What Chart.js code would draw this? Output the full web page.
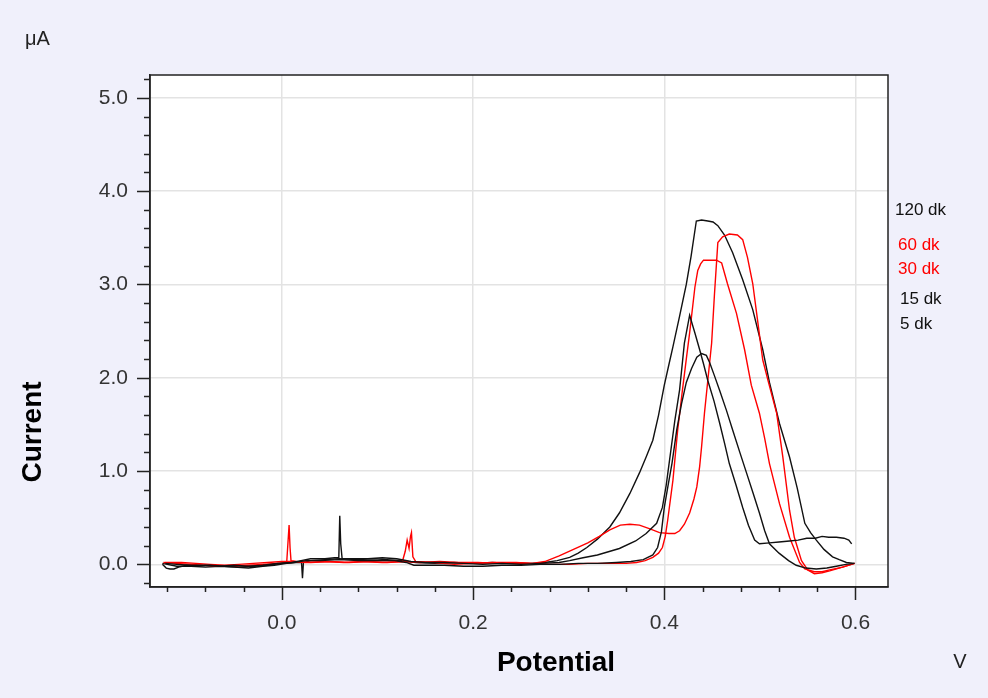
<!DOCTYPE html>
<html>
<head>
<meta charset="utf-8">
<script src="https://cdn.jsdelivr.net/npm/chart.js@4.4.1/dist/chart.umd.min.js"></script>
<style>
  html, body { margin: 0; padding: 0; background: #f0f0fb; }
  canvas { display: block; }
</style>
</head>
<body>
<canvas id="voltammogram" width="988" height="698"></canvas>
<script>
const seriesLabels = ["5 dk", "15 dk", "30 dk", "60 dk", "120 dk"];
const seriesColors = ["#111111", "#111111", "#ff0000", "#ff0000", "#111111"];

// potential (V) / current (uA)
const pot5 = [-0.125, -0.121, -0.117, -0.113, -0.108, -0.1, -0.09, -0.075, -0.06, -0.045, -0.03, -0.015, 0.0, 0.012, 0.025, 0.04, 0.06, 0.08, 0.1, 0.118, 0.13, 0.138, 0.15, 0.17, 0.19, 0.21, 0.23, 0.25, 0.27, 0.29, 0.31, 0.33, 0.35, 0.365, 0.378, 0.388, 0.393, 0.397, 0.4, 0.404, 0.408, 0.413, 0.418, 0.423, 0.4285, 0.434, 0.439, 0.444, 0.4475, 0.4525, 0.458, 0.465, 0.4715, 0.479, 0.486, 0.493, 0.4995, 0.505, 0.51, 0.52, 0.53, 0.538, 0.548, 0.559, 0.57, 0.58, 0.59, 0.599];
const cur5 = [0.0, -0.04, -0.05, -0.05, -0.03, -0.01, -0.02, -0.01, -0.02, -0.03, -0.02, -0.01, 0.01, 0.02, 0.04, 0.04, 0.05, 0.04, 0.04, 0.04, 0.02, -0.01, -0.01, -0.01, -0.02, -0.02, -0.01, -0.01, 0.0, 0.0, 0.01, 0.01, 0.02, 0.03, 0.05, 0.1, 0.18, 0.35, 0.61, 0.85, 1.08, 1.44, 1.72, 1.95, 2.1, 2.22, 2.26, 2.24, 2.16, 2.02, 1.86, 1.65, 1.44, 1.2, 0.98, 0.76, 0.55, 0.36, 0.22, 0.12, 0.04, -0.01, -0.04, -0.05, -0.04, -0.02, 0.0, 0.01];

const pot15 = [-0.122, -0.11, -0.095, -0.08, -0.065, -0.05, -0.035, -0.02, -0.005, 0.01, 0.02, 0.03, 0.045, 0.055, 0.0595, 0.0605, 0.0615, 0.063, 0.075, 0.09, 0.105, 0.12, 0.135, 0.15, 0.17, 0.19, 0.21, 0.23, 0.25, 0.27, 0.29, 0.301, 0.315, 0.33, 0.353, 0.37, 0.381, 0.392, 0.398, 0.402, 0.405, 0.411, 0.416, 0.421, 0.4265, 0.432, 0.437, 0.441, 0.4455, 0.452, 0.458, 0.463, 0.468, 0.475, 0.482, 0.488, 0.4945, 0.4995, 0.51, 0.52, 0.531, 0.54, 0.549, 0.558, 0.565, 0.572, 0.58, 0.588, 0.593, 0.596];
const cur15 = [0.01, 0.0, -0.01, -0.01, -0.02, -0.01, -0.02, -0.01, 0.01, 0.02, 0.04, 0.06, 0.06, 0.07, 0.07, 0.52, 0.22, 0.06, 0.06, 0.06, 0.07, 0.06, 0.03, 0.02, 0.02, 0.01, 0.0, 0.01, 0.0, 0.01, 0.02, 0.04, 0.07, 0.1, 0.17, 0.25, 0.33, 0.44, 0.61, 0.85, 1.08, 1.54, 1.87, 2.37, 2.67, 2.48, 2.3, 2.15, 1.97, 1.75, 1.51, 1.3, 1.08, 0.85, 0.61, 0.42, 0.26, 0.22, 0.23, 0.24, 0.25, 0.26, 0.28, 0.28, 0.3, 0.29, 0.29, 0.28, 0.26, 0.22];

const pot30 = [-0.124, -0.11, -0.095, -0.08, -0.065, -0.05, -0.035, -0.02, -0.005, 0.005, 0.0075, 0.0085, 0.0095, 0.015, 0.03, 0.05, 0.07, 0.09, 0.11, 0.126, 0.129, 0.131, 0.133, 0.1345, 0.1355, 0.137, 0.14, 0.16, 0.18, 0.2, 0.22, 0.24, 0.26, 0.28, 0.3, 0.32, 0.34, 0.36, 0.371, 0.38, 0.388, 0.394, 0.398, 0.401, 0.4035, 0.409, 0.414, 0.419, 0.423, 0.4265, 0.432, 0.435, 0.438, 0.441, 0.4545, 0.46, 0.466, 0.4755, 0.484, 0.491, 0.4995, 0.505, 0.51, 0.5205, 0.531, 0.5415, 0.547, 0.557, 0.565, 0.573, 0.5865, 0.599];
const cur30 = [0.02, 0.01, 0.0, -0.01, -0.02, -0.02, -0.01, 0.0, 0.01, 0.02, 0.42, 0.18, 0.04, 0.03, 0.02, 0.03, 0.02, 0.03, 0.02, 0.03, 0.14, 0.26, 0.17, 0.3, 0.34, 0.08, 0.03, 0.02, 0.0, 0.01, 0.02, 0.02, 0.01, 0.0, 0.0, 0.01, 0.01, 0.01, 0.02, 0.04, 0.075, 0.12, 0.18, 0.3, 0.47, 0.9, 1.44, 1.87, 2.2, 2.48, 2.97, 3.15, 3.22, 3.26, 3.26, 3.23, 3.01, 2.69, 2.3, 1.92, 1.62, 1.35, 1.08, 0.65, 0.29, 0.02, -0.05, -0.08, -0.08, -0.06, -0.03, 0.01];

const pot60 = [-0.122, -0.105, -0.09, -0.075, -0.06, -0.045, -0.03, -0.015, 0.0, 0.012, 0.025, 0.045, 0.065, 0.085, 0.105, 0.125, 0.145, 0.165, 0.185, 0.205, 0.225, 0.245, 0.262, 0.275, 0.29, 0.305, 0.32, 0.332, 0.343, 0.354, 0.364, 0.374, 0.385, 0.395, 0.405, 0.411, 0.416, 0.421, 0.4265, 0.431, 0.434, 0.437, 0.439, 0.442, 0.4455, 0.4495, 0.4525, 0.456, 0.461, 0.468, 0.4765, 0.482, 0.487, 0.4925, 0.4975, 0.503, 0.509, 0.5175, 0.524, 0.531, 0.536, 0.5435, 0.55, 0.557, 0.565, 0.573, 0.5865, 0.599];
const cur60 = [0.02, 0.02, 0.01, 0.0, -0.01, 0.0, 0.01, 0.02, 0.03, 0.03, 0.02, 0.03, 0.02, 0.03, 0.02, 0.03, 0.02, 0.03, 0.02, 0.02, 0.01, 0.02, 0.01, 0.03, 0.09, 0.16, 0.23, 0.3, 0.37, 0.42, 0.43, 0.42, 0.38, 0.34, 0.33, 0.33, 0.36, 0.43, 0.55, 0.7, 0.83, 1.05, 1.26, 1.62, 1.97, 2.37, 2.9, 3.45, 3.51, 3.54, 3.53, 3.48, 3.29, 3.01, 2.62, 2.19, 1.95, 1.62, 1.15, 0.58, 0.29, 0.04, -0.06, -0.1, -0.09, -0.07, -0.03, 0.01];

const pot120 = [-0.125, -0.11, -0.095, -0.08, -0.065, -0.05, -0.035, -0.02, -0.008, 0.005, 0.015, 0.0205, 0.0215, 0.0225, 0.03, 0.045, 0.06, 0.08, 0.095, 0.11, 0.125, 0.14, 0.16, 0.18, 0.2, 0.22, 0.24, 0.26, 0.275, 0.288, 0.301, 0.31, 0.319, 0.33, 0.343, 0.353, 0.364, 0.374, 0.381, 0.388, 0.394, 0.4, 0.405, 0.409, 0.416, 0.423, 0.428, 0.4335, 0.439, 0.4455, 0.451, 0.456, 0.463, 0.4715, 0.482, 0.4925, 0.503, 0.51, 0.5205, 0.531, 0.539, 0.547, 0.553, 0.559, 0.567, 0.576, 0.583, 0.5905, 0.599];
const cur120 = [0.01, -0.02, -0.02, -0.03, -0.02, -0.03, -0.04, -0.02, -0.01, 0.01, 0.02, 0.02, -0.15, 0.02, 0.04, 0.05, 0.06, 0.05, 0.06, 0.05, 0.04, 0.02, 0.01, 0.02, 0.01, 0.02, 0.01, 0.01, 0.02, 0.04, 0.075, 0.12, 0.18, 0.27, 0.4, 0.55, 0.76, 0.98, 1.15, 1.33, 1.6, 1.92, 2.15, 2.33, 2.66, 3.0, 3.3, 3.68, 3.69, 3.68, 3.67, 3.63, 3.53, 3.34, 3.05, 2.73, 2.3, 1.95, 1.51, 1.15, 0.82, 0.44, 0.34, 0.26, 0.16, 0.08, 0.05, 0.02, 0.01];

const xTickValues = [0.0, 0.2, 0.4, 0.6];
const yTickValues = [0, 1, 2, 3, 4, 5];

const potentials = [pot5, pot15, pot30, pot60, pot120];
const currents = [cur5, cur15, cur30, cur60, cur120];

const FONT = "'Liberation Sans', Arial, sans-serif";

const datasets = seriesLabels.map((label, i) => ({
  label,
  data: potentials[i].map((x, j) => ({ x, y: currents[i][j] })),
  borderColor: seriesColors[i],
  backgroundColor: seriesColors[i],
  borderWidth: 1.4,
  pointRadius: 0,
  showLine: true,
  tension: 0,
}));

const frame = {
  id: "frame",
  beforeDraw(chart) {
    const { ctx, chartArea: a } = chart;
    ctx.save();
    ctx.fillStyle = "#f0f0fb";
    ctx.fillRect(0, 0, chart.width, chart.height);
    ctx.fillStyle = "#ffffff";
    ctx.fillRect(a.left, a.top, a.right - a.left, a.bottom - a.top);
    ctx.restore();
  },
  afterDraw(chart) {
    const { ctx, chartArea: a, scales } = chart;
    ctx.save();
    ctx.strokeStyle = "#222";
    ctx.lineWidth = 1.5;
    ctx.strokeRect(a.left, a.top, a.right - a.left, a.bottom - a.top);

    // minor / major tick marks, pointing outward
    ctx.beginPath();
    for (let i = -3; i <= 15; i++) {
      const px = Math.round(scales.x.getPixelForValue(i * 0.04)) + 0.5;
      const len = i % 5 === 0 ? 13 : 5;
      ctx.moveTo(px, a.bottom);
      ctx.lineTo(px, a.bottom + len);
    }
    for (let i = -1; i <= 26; i++) {
      const py = Math.round(scales.y.getPixelForValue(i * 0.2)) + 0.5;
      const len = i % 5 === 0 ? 13 : 6;
      ctx.moveTo(a.left, py);
      ctx.lineTo(a.left - len, py);
    }
    ctx.stroke();

    ctx.fillStyle = "#222";
    ctx.textBaseline = "middle";
    ctx.font = "20px " + FONT;
    ctx.textAlign = "left";
    ctx.fillText("\u03bcA", 25, 39);
    ctx.textAlign = "center";
    ctx.fillText("V", 960, 662);

    ctx.fillStyle = "#000";
    ctx.font = "bold 28px " + FONT;
    ctx.fillText("Potential", 556, 663);
    ctx.save();
    ctx.translate(33, 432);
    ctx.rotate(-Math.PI / 2);
    ctx.fillText("Current", 0, 0);
    ctx.restore();

    // legend text at the right edge
    const legendSpots = [[900, 324], [900, 299], [898, 269], [898, 245], [895, 210]];
    ctx.font = "17px " + FONT;
    ctx.textAlign = "left";
    seriesLabels.forEach((label, i) => {
      ctx.fillStyle = seriesColors[i];
      ctx.fillText(label, legendSpots[i][0], legendSpots[i][1]);
    });
    ctx.restore();
  },
};

new Chart(document.getElementById("voltammogram"), {
  type: "scatter",
  data: { datasets },
  options: {
    responsive: false,
    animation: false,
    layout: { padding: { top: 75, right: 100, left: 0, bottom: 0 } },
    plugins: {
      legend: { display: false },
      tooltip: { enabled: false },
    },
    scales: {
      x: {
        type: "linear",
        min: -0.138,
        max: 0.634,
        afterBuildTicks: (scale) => {
          scale.ticks = xTickValues.map((v) => ({ value: v }));
        },
        afterFit: (scale) => {
          scale.height = 111;
        },
        ticks: {
          callback: (v) => Number(v).toFixed(1),
          color: "#333",
          font: { family: FONT, size: 21 },
          padding: 24,
          maxRotation: 0,
          autoSkip: false,
        },
        grid: { color: "#e3e3e3", lineWidth: 1.5, drawTicks: false },
        border: { color: "#222", width: 1.5 },
      },
      y: {
        type: "linear",
        min: -0.243,
        max: 5.245,
        afterBuildTicks: (scale) => {
          scale.ticks = yTickValues.map((v) => ({ value: v }));
        },
        afterFit: (scale) => {
          scale.width = 150;
        },
        ticks: {
          callback: (v) => Number(v).toFixed(1),
          color: "#333",
          font: { family: FONT, size: 21 },
          padding: 22,
          autoSkip: false,
        },
        grid: { color: "#e3e3e3", lineWidth: 1.5, drawTicks: false },
        border: { color: "#222", width: 1.5 },
      },
    },
  },
  plugins: [frame],
});
</script>
</body>
</html>
